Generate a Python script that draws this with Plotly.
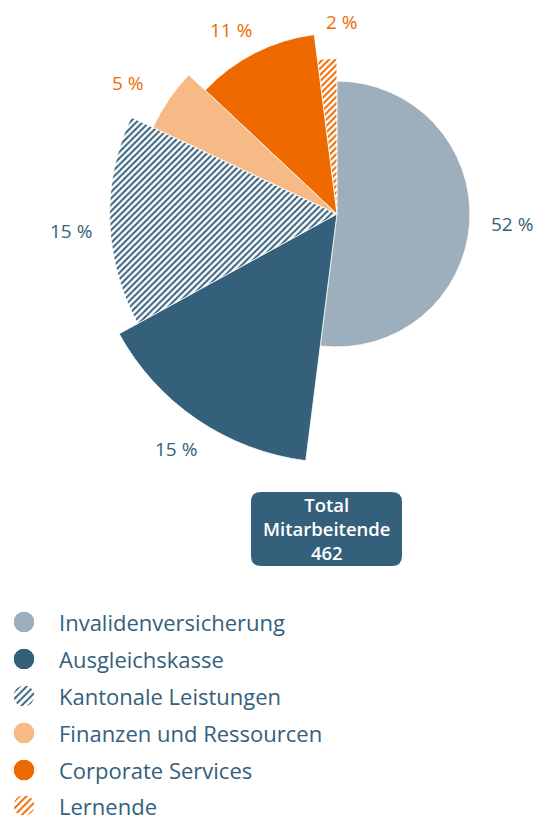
import math
import plotly.graph_objects as go

# ---------------- data ----------------
categories = ["Invalidenversicherung", "Ausgleichskasse", "Kantonale Leistungen",
              "Finanzen und Ressourcen", "Corporate Services", "Lernende"]
shares = [52, 15, 15, 5, 11, 2]            # percent of staff
radius = [100, 187, 171, 153, 136, 117]    # slice radius (relative units)
value_labels = ["52 %", "15 %", "15 %", "5 %", "11 %", "2 %"]
total_title = ["Total", "Mitarbeitende"]
total_value = 462

# ---------------- styles ----------------
colors = ["#9daebd", "#34607c", "#34607c", "#f7b986", "#ee6a00", "#ee6a00"]
patterns = ["", "", "/", "", "", "/"]
label_colors = ["#34607c", "#34607c", "#34607c", "#ee6a00", "#ee6a00", "#ee6a00"]
TEXT_BLUE = "#34607c"
FONT = "Open Sans"

W, H = 540, 816
CX, CY = 337, 214        # pie centre in pixels
PX_PER_UNIT = 1.33       # pixels per radial unit

# label pixel positions
label_pos = [(512, 224), (176, 449), (71, 231), (128, 83), (231, 30), (342, 22)]
legend_y = [622, 659, 696, 733, 770, 805.5]
legend_icon_x = 24
legend_text_x = 57
ICON_R = 10.5


def px(x):
    return x / W


def py(y):
    return min(1.0, max(0.0, 1 - y / H))


def sector_bbox(s0, s1):
    """Replicates plotly.js computeSectorBBox (unit circle coords)."""
    arc = s1 - s0
    a0 = s0 % 360
    a1 = a0 + arc
    ax0, ay0 = math.cos(math.radians(a0)), math.sin(math.radians(a0))
    ax1, ay1 = math.cos(math.radians(a1)), math.sin(math.radians(a1))
    if (a0 <= 90 and a1 >= 90) or (a0 > 90 and a1 >= 450):
        y1 = 1
    elif ay0 <= 0 and ay1 <= 0:
        y1 = 0
    else:
        y1 = max(ay0, ay1)
    if (a0 <= 180 and a1 >= 180) or (a0 > 180 and a1 >= 540):
        x0 = -1
    elif ax0 >= 0 and ax1 >= 0:
        x0 = 0
    else:
        x0 = min(ax0, ax1)
    if (a0 <= 270 and a1 >= 270) or (a0 > 270 and a1 >= 630):
        y0 = -1
    elif ay0 >= 0 and ay1 >= 0:
        y0 = 0
    else:
        y0 = min(ay0, ay1)
    if a1 >= 360:
        x1 = 1
    elif ax0 <= 0 and ax1 <= 0:
        x1 = 0
    else:
        x1 = max(ax0, ax1)
    return x0, y0, x1, y1


fig = go.Figure()
layout_polars = {}

# main pie: one polar sector per slice, all sharing centre and scale
start = 0.0
for i, cat in enumerate(categories):
    width = shares[i] * 3.6
    theta = start + width / 2
    g0, g1 = 90 - (start + width), 90 - start   # geometric angles (ccw from right)
    start += width
    name = "polar" if i == 0 else "polar%d" % (i + 1)
    fig.add_trace(go.Barpolar(
        r=[radius[i]], theta=[theta], width=[width],
        name=cat, showlegend=False, hoverinfo="skip",
        marker=dict(color=colors[i], line=dict(color="white", width=1),
                    pattern=dict(shape=patterns[i], bgcolor="white", size=4.5,
                                 solidity=0.45, fillmode="replace")),
        subplot=name))
    rpx = radius[i] * PX_PER_UNIT
    x0, y0, x1, y1 = sector_bbox(g0, g1)
    layout_polars[name] = dict(
        sector=[g0, g1],
        domain=dict(x=[px(CX + rpx * x0), px(CX + rpx * x1)],
                    y=[py(CY - rpx * y0), py(CY - rpx * y1)]),
        radialaxis=dict(range=[0, radius[i]], visible=False),
        angularaxis=dict(visible=False, rotation=90, direction="clockwise"),
        bgcolor="rgba(0,0,0,0)")

# legend icons as tiny polar discs
for i, cat in enumerate(categories):
    name = "polar%d" % (i + 7)
    fig.add_trace(go.Barpolar(
        r=[1], theta=[0], width=[360], showlegend=False, hoverinfo="skip",
        marker=dict(color=colors[i], line=dict(width=0),
                    pattern=dict(shape=patterns[i], bgcolor="white", size=5,
                                 solidity=0.38, fillmode="replace")),
        subplot=name))
    cy = legend_y[i]
    layout_polars[name] = dict(
        domain=dict(x=[px(legend_icon_x - ICON_R), px(legend_icon_x + ICON_R)],
                    y=[py(cy + ICON_R), py(cy - ICON_R)]),
        radialaxis=dict(range=[0, 1], visible=False),
        angularaxis=dict(visible=False),
        bgcolor="rgba(0,0,0,0)")

annotations = []
for i, lab in enumerate(value_labels):
    x, y = label_pos[i]
    annotations.append(dict(x=px(x), y=py(y), xref="paper", yref="paper",
                            text=lab, showarrow=False, xanchor="center", yanchor="middle",
                            font=dict(family=FONT, size=19, color=label_colors[i])))

for i, cat in enumerate(categories):
    annotations.append(dict(x=px(legend_text_x), y=py(legend_y[i]), xref="paper", yref="paper",
                            text=cat, showarrow=False, xanchor="left", yanchor="middle",
                            font=dict(family=FONT, size=22, color=TEXT_BLUE)))

# total box
BX0, BY0, BX1, BY1, RR = 251, 492, 402, 566, 10
box_path = ("M {a},{b} L {c},{b} Q {d},{b} {d},{e} L {d},{f} Q {d},{g} {c},{g} "
            "L {a},{g} Q {h},{g} {h},{f} L {h},{e} Q {h},{b} {a},{b} Z").format(
    a=px(BX0 + RR), b=py(BY0), c=px(BX1 - RR), d=px(BX1), e=py(BY0 + RR),
    f=py(BY1 - RR), g=py(BY1), h=px(BX0))
shapes = [dict(type="path", xref="paper", yref="paper", path=box_path,
               fillcolor=TEXT_BLUE, line=dict(width=0))]

box_text = "<br>".join(total_title + [str(total_value)])
annotations.append(dict(x=px((BX0 + BX1) / 2), y=py(528.5), xref="paper", yref="paper",
                        text=box_text, showarrow=False, xanchor="center",
                        yanchor="middle", align="center",
                        font=dict(family=FONT, size=18.5, color="white", weight=600)))

fig.update_layout(width=W, height=H, margin=dict(l=0, r=0, t=0, b=0),
                  paper_bgcolor="white", plot_bgcolor="white",
                  annotations=annotations, shapes=shapes, **layout_polars)

fig.write_html("out.html", config={"displayModeBar": False},
               post_script="document.body.style.margin='0';")
